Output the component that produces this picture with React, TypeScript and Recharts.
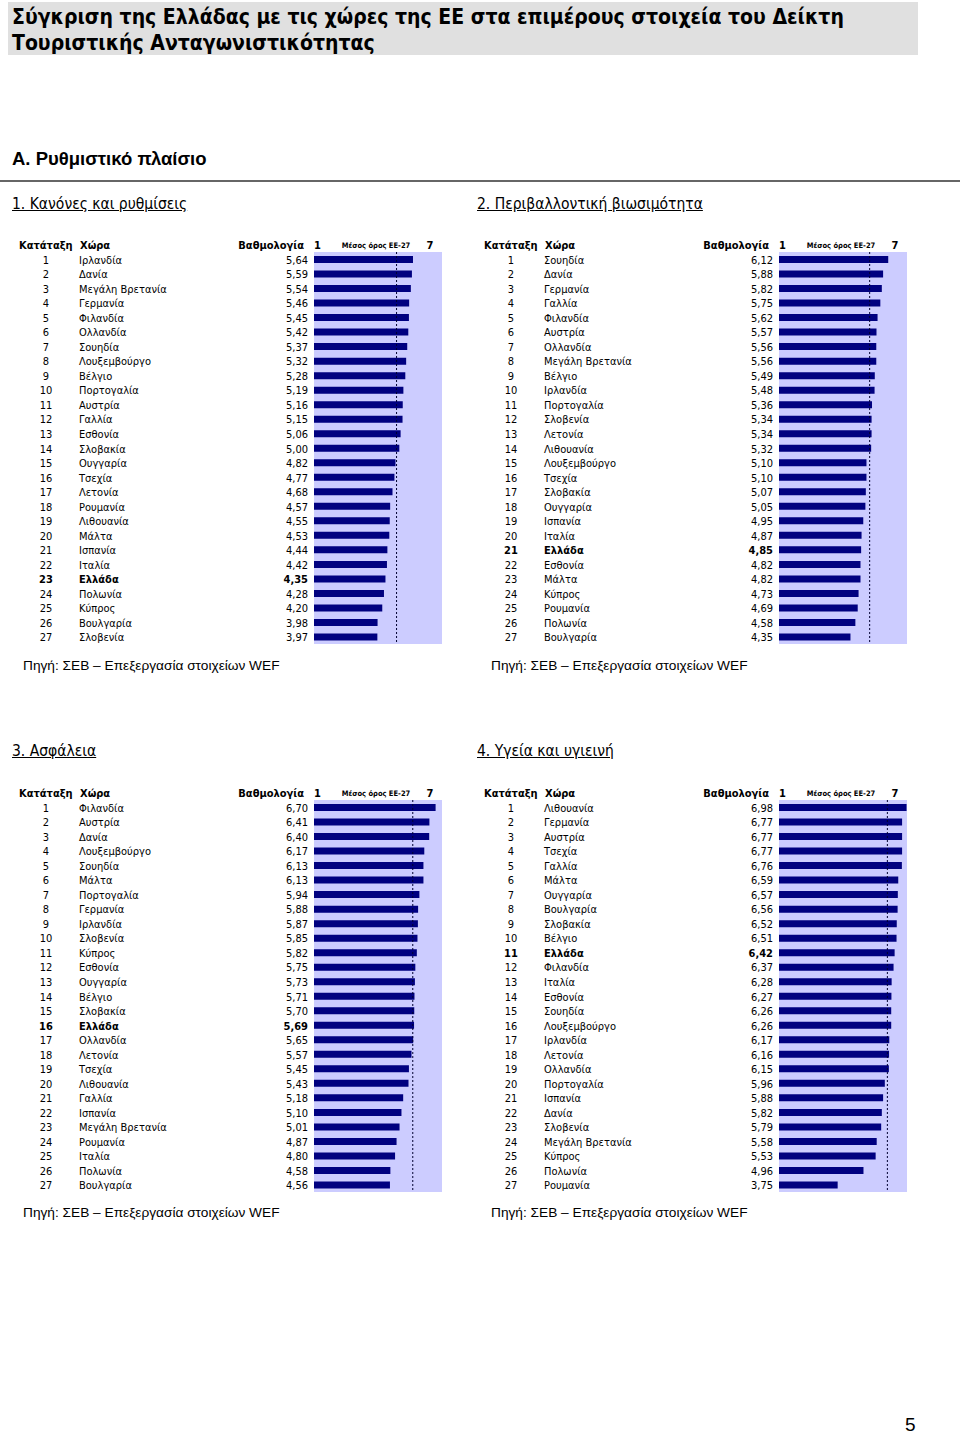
import React from "react";
import { BarChart, Bar, XAxis, YAxis, ReferenceArea, ReferenceLine } from "recharts";

// 1. Κανόνες και ρυθμίσεις
const rulesCountries = [
  "Ιρλανδία", "Δανία", "Μεγάλη Βρετανία", "Γερμανία", "Φιλανδία", "Ολλανδία", "Σουηδία",
  "Λουξεμβούργο", "Βέλγιο", "Πορτογαλία", "Αυστρία", "Γαλλία", "Εσθονία", "Σλοβακία",
  "Ουγγαρία", "Τσεχία", "Λετονία", "Ρουμανία", "Λιθουανία", "Μάλτα", "Ισπανία", "Ιταλία",
  "Ελλάδα", "Πολωνία", "Κύπρος", "Βουλγαρία", "Σλοβενία",
];
const rulesScores = [
  5.64, 5.59, 5.54, 5.46, 5.45, 5.42, 5.37, 5.32, 5.28, 5.19, 5.16, 5.15, 5.06, 5.0,
  4.82, 4.77, 4.68, 4.57, 4.55, 4.53, 4.44, 4.42, 4.35, 4.28, 4.2, 3.98, 3.97,
];

// 2. Περιβαλλοντική βιωσιμότητα
const envCountries = [
  "Σουηδία", "Δανία", "Γερμανία", "Γαλλία", "Φιλανδία", "Αυστρία", "Ολλανδία",
  "Μεγάλη Βρετανία", "Βέλγιο", "Ιρλανδία", "Πορτογαλία", "Σλοβενία", "Λετονία", "Λιθουανία",
  "Λουξεμβούργο", "Τσεχία", "Σλοβακία", "Ουγγαρία", "Ισπανία", "Ιταλία", "Ελλάδα",
  "Εσθονία", "Μάλτα", "Κύπρος", "Ρουμανία", "Πολωνία", "Βουλγαρία",
];
const envScores = [
  6.12, 5.88, 5.82, 5.75, 5.62, 5.57, 5.56, 5.56, 5.49, 5.48, 5.36, 5.34, 5.34, 5.32,
  5.1, 5.1, 5.07, 5.05, 4.95, 4.87, 4.85, 4.82, 4.82, 4.73, 4.69, 4.58, 4.35,
];

// 3. Ασφάλεια
const safetyCountries = [
  "Φιλανδία", "Αυστρία", "Δανία", "Λουξεμβούργο", "Σουηδία", "Μάλτα", "Πορτογαλία",
  "Γερμανία", "Ιρλανδία", "Σλοβενία", "Κύπρος", "Εσθονία", "Ουγγαρία", "Βέλγιο",
  "Σλοβακία", "Ελλάδα", "Ολλανδία", "Λετονία", "Τσεχία", "Λιθουανία", "Γαλλία", "Ισπανία",
  "Μεγάλη Βρετανία", "Ρουμανία", "Ιταλία", "Πολωνία", "Βουλγαρία",
];
const safetyScores = [
  6.7, 6.41, 6.4, 6.17, 6.13, 6.13, 5.94, 5.88, 5.87, 5.85, 5.82, 5.75, 5.73, 5.71,
  5.7, 5.69, 5.65, 5.57, 5.45, 5.43, 5.18, 5.1, 5.01, 4.87, 4.8, 4.58, 4.56,
];

// 4. Υγεία και υγιεινή
const healthCountries = [
  "Λιθουανία", "Γερμανία", "Αυστρία", "Τσεχία", "Γαλλία", "Μάλτα", "Ουγγαρία",
  "Βουλγαρία", "Σλοβακία", "Βέλγιο", "Ελλάδα", "Φιλανδία", "Ιταλία", "Εσθονία",
  "Σουηδία", "Λουξεμβούργο", "Ιρλανδία", "Λετονία", "Ολλανδία", "Πορτογαλία", "Ισπανία",
  "Δανία", "Σλοβενία", "Μεγάλη Βρετανία", "Κύπρος", "Πολωνία", "Ρουμανία",
];
const healthScores = [
  6.98, 6.77, 6.77, 6.77, 6.76, 6.59, 6.57, 6.56, 6.52, 6.51, 6.42, 6.37, 6.28, 6.27,
  6.26, 6.26, 6.17, 6.16, 6.15, 5.96, 5.88, 5.82, 5.79, 5.58, 5.53, 4.96, 3.75,
];

// ΕΕ-27 averages (dotted line)
const euAverages = [4.87, 5.25, 5.63, 6.08];
const scaleTicks = [1, 4, 7];
const highlight = "Ελλάδα";

const TABLE_FONT = "Tahoma, 'DejaVu Sans Condensed', 'DejaVu Sans', sans-serif";
const ARIAL = "Arial, 'Liberation Sans', sans-serif";
const NAVY = "#000080";

type PanelProps = {
  countries: string[];
  scores: number[];
  average: number;
};

const ScorePanel: React.FC<PanelProps> = ({ countries, scores, average }) => {
  const data = countries.map((c, i) => ({ rank: i + 1, country: c, score: scores[i] }));

  const RowTick = (props: any) => {
    const { y, payload } = props;
    const row = data.find((d) => d.country === payload.value);
    if (!row) return null;
    const bold = row.country === highlight ? "bold" : "normal";
    const ty = y + 1;
    return (
      <g fontFamily={TABLE_FONT} fontSize={11} fill="#000" fontWeight={bold}>
        <text x={46} y={ty} textAnchor="middle" dominantBaseline="central">{row.rank}</text>
        <text x={79} y={ty} dominantBaseline="central">{row.country}</text>
        <text x={308} y={ty} textAnchor="end" dominantBaseline="central">
          {row.score.toFixed(2).replace(".", ",")}
        </text>
      </g>
    );
  };

  const HeaderTick = (props: any) => {
    const { x, payload } = props;
    const base = 13;
    if (payload.value === 1) {
      return (
        <g fontFamily={TABLE_FONT} fontWeight="bold" fontSize={11} fill="#000">
          <text x={19} y={base}>Κατάταξη</text>
          <text x={80} y={base}>Χώρα</text>
          <text x={304} y={base} textAnchor="end">Βαθμολογία</text>
          <text x={x} y={base}>1</text>
        </g>
      );
    }
    if (payload.value === 7) {
      return (
        <text x={x - 12} y={base} textAnchor="middle" fontFamily={TABLE_FONT} fontWeight="bold" fontSize={11} fill="#000">
          7
        </text>
      );
    }
    return (
      <text x={x - 2} y={base - 1} textAnchor="middle" fontFamily={TABLE_FONT} fontWeight="bold" fontSize={7.5} fill="#000">
        Μέσος όρος ΕΕ-27
      </text>
    );
  };

  return (
    <BarChart
      width={445}
      height={408}
      data={data}
      layout="vertical"
      barSize={7}
      margin={{ top: 0, right: 3, left: 0, bottom: 0 }}
    >
      <XAxis
        type="number"
        orientation="top"
        domain={[1, 7]}
        ticks={scaleTicks}
        interval={0}
        axisLine={false}
        tickLine={false}
        height={16}
        tick={<HeaderTick />}
      />
      <YAxis
        type="category"
        dataKey="country"
        width={314}
        interval={0}
        axisLine={false}
        tickLine={false}
        tick={<RowTick />}
      />
      <ReferenceArea x1={1} x2={7} fill="#ccccff" fillOpacity={1} stroke="none" />
      <Bar dataKey="score" fill={NAVY} isAnimationActive={false} />
      <ReferenceLine x={average} stroke="#000030" strokeDasharray="2 2" strokeWidth={1} />
    </BarChart>
  );
};

const abs = (top: number, left: number): React.CSSProperties => ({ position: "absolute", top, left });

const SectionTitle: React.FC<{ top: number; left: number; text: string }> = ({ top, left, text }) => (
  <div
    style={{
      ...abs(top, left),
      fontFamily: TABLE_FONT,
      fontSize: 15.5,
      lineHeight: "17px",
      textDecoration: "underline",
      whiteSpace: "nowrap",
    }}
  >
    {text}
  </div>
);

const Source: React.FC<{ top: number; left: number }> = ({ top, left }) => (
  <div style={{ ...abs(top, left), fontFamily: ARIAL, fontSize: 13.7, lineHeight: "16px", whiteSpace: "nowrap" }}>
    Πηγή: ΣΕΒ – Επεξεργασία στοιχείων WEF
  </div>
);

export default function App() {
  return (
    <div style={{ position: "absolute", top: 0, left: 0, width: 960, height: 1438, background: "#fff", color: "#000" }}>
      <div
        style={{
          ...abs(2, 8),
          width: 910,
          height: 53,
          background: "#e0e0e0",
        }}
      />
      <div
        style={{
          ...abs(4, 12),
          fontFamily: "'DejaVu Sans Condensed', 'DejaVu Sans', sans-serif",
          fontWeight: "bold",
          fontSize: 21,
          lineHeight: "26px",
          whiteSpace: "nowrap",
        }}
      >
        Σύγκριση της Ελλάδας με τις χώρες της ΕΕ στα επιμέρους στοιχεία του Δείκτη
        <br />
        Τουριστικής Ανταγωνιστικότητας
      </div>

      <div style={{ ...abs(149, 12), fontFamily: ARIAL, fontWeight: "bold", fontSize: 18.5, lineHeight: "20px" }}>
        Α. Ρυθμιστικό πλαίσιο
      </div>
      <div style={{ ...abs(180, 0), width: 960, height: 2, background: "#666" }} />

      <SectionTitle top={196} left={12} text="1. Κανόνες και ρυθμίσεις" />
      <SectionTitle top={196} left={477} text="2. Περιβαλλοντική βιωσιμότητα" />
      <div style={abs(236, 0)}>
        <ScorePanel countries={rulesCountries} scores={rulesScores} average={euAverages[0]} />
      </div>
      <div style={abs(236, 465)}>
        <ScorePanel countries={envCountries} scores={envScores} average={euAverages[1]} />
      </div>
      <Source top={658} left={23} />
      <Source top={658} left={491} />

      <SectionTitle top={743} left={12} text="3. Ασφάλεια" />
      <SectionTitle top={743} left={477} text="4. Υγεία και υγιεινή" />
      <div style={abs(784, 0)}>
        <ScorePanel countries={safetyCountries} scores={safetyScores} average={euAverages[2]} />
      </div>
      <div style={abs(784, 465)}>
        <ScorePanel countries={healthCountries} scores={healthScores} average={euAverages[3]} />
      </div>
      <Source top={1205} left={23} />
      <Source top={1205} left={491} />

      <div style={{ ...abs(1414, 905), fontFamily: ARIAL, fontSize: 19, lineHeight: "22px" }}>5</div>
    </div>
  );
}
